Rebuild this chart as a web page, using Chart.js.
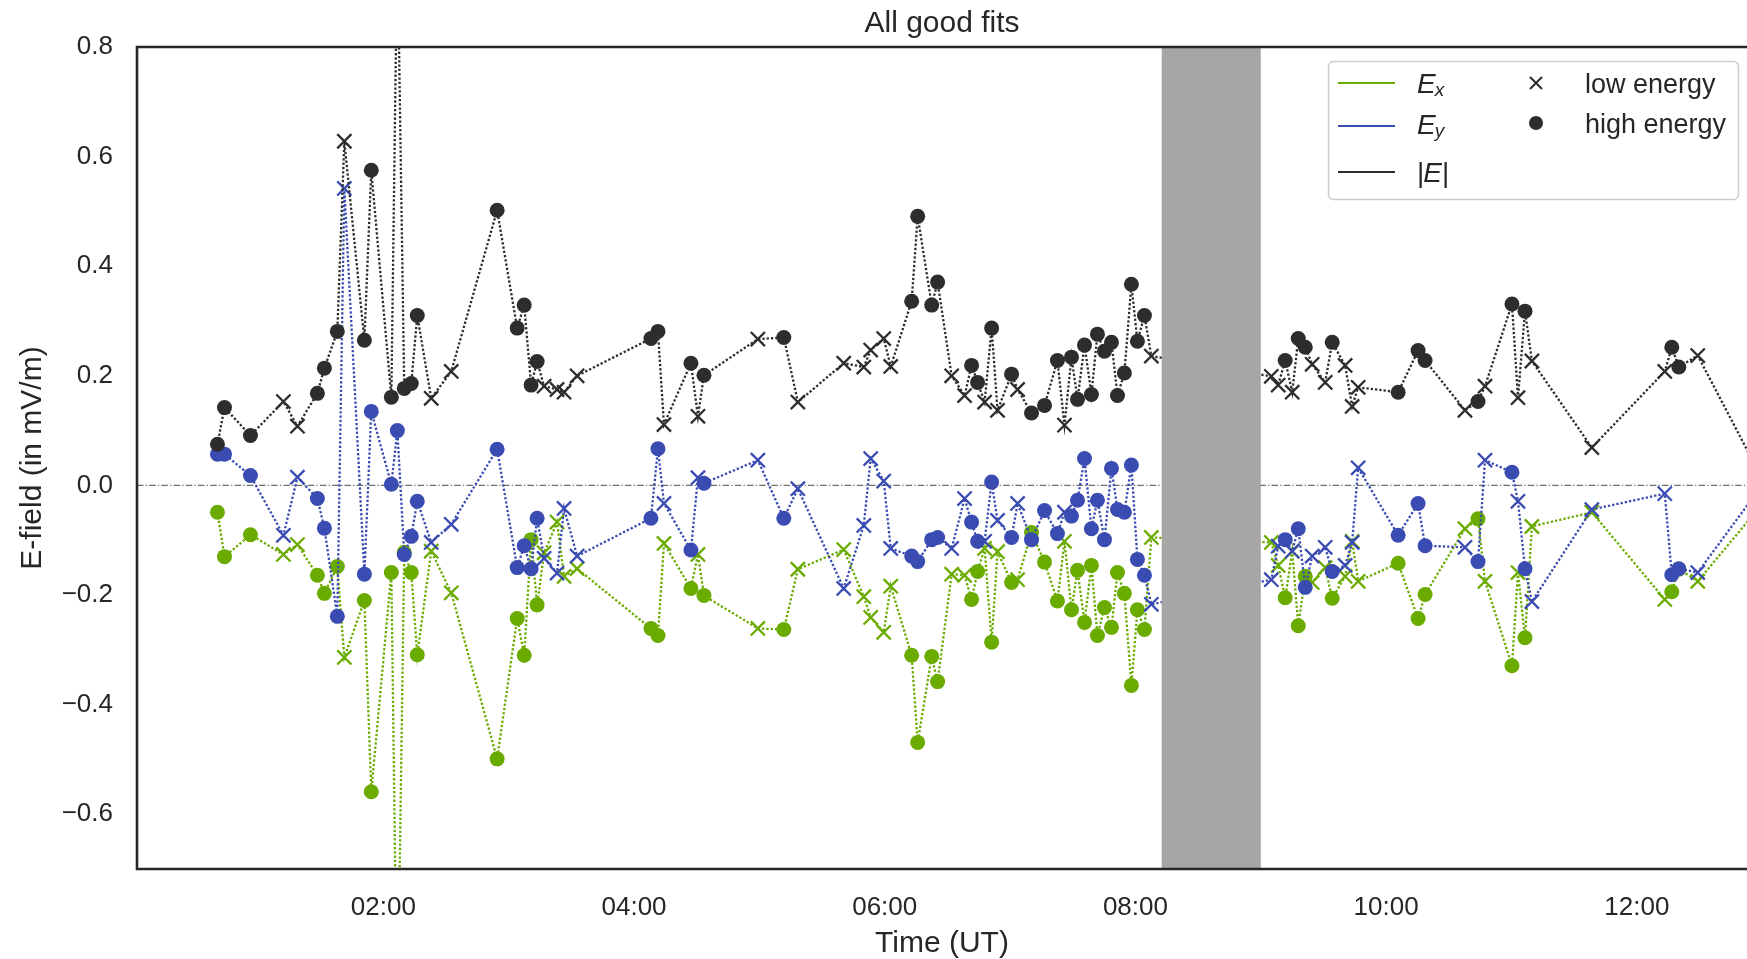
<!DOCTYPE html>
<html>
<head>
<meta charset="utf-8">
<title>All good fits</title>
<script src="https://cdn.jsdelivr.net/npm/chart.js@4.4.1/dist/chart.umd.min.js"></script>
<style>
  html, body { margin: 0; padding: 0; background: #ffffff; overflow: hidden; }
  #wrap { width: 1747px; height: 959px; position: relative; }
  canvas { display: block; }
</style>
</head>
<body>
<div id="wrap"><canvas id="chart"></canvas></div>
<script>
// time of each fit, in hours UT
const times = [
  0.677, 0.733, 0.940, 1.203, 1.315, 1.474, 1.530, 1.633, 1.689, 1.849,
  1.904, 2.064, 2.112, 2.167, 2.223, 2.271, 2.382, 2.542, 2.908, 3.068,
  3.124, 3.179, 3.227, 3.283, 3.386, 3.442, 3.546, 4.135, 4.191, 4.239,
  4.454, 4.510, 4.558, 4.988, 5.195, 5.307, 5.673, 5.833, 5.888, 5.992,
  6.048, 6.215, 6.263, 6.375, 6.422, 6.534, 6.637, 6.693, 6.741, 6.797,
  6.853, 6.900, 7.012, 7.060, 7.171, 7.275, 7.378, 7.434, 7.490, 7.538,
  7.594, 7.649, 7.697, 7.753, 7.809, 7.857, 7.912, 7.968, 8.016, 8.072,
  8.127, 9.084, 9.139, 9.195, 9.251, 9.299, 9.355, 9.410, 9.514, 9.570,
  9.673, 9.729, 9.777, 10.096, 10.255, 10.311, 10.629, 10.733, 10.789, 11.004,
  11.052, 11.108, 11.163, 11.641, 12.223, 12.279, 12.335, 12.486, 12.95
];

// which fit: low energy (x marker) or high energy (dot)
const energy = [
  'high','high','high','low','low','high','high','high','low','high',
  'high','high','high','high','high','high','low','low','high','high',
  'high','high','high','low','low','low','low','high','high','low',
  'high','low','high','low','high','low','low','low','low','low',
  'low','high','high','high','high','low','low','high','high','low',
  'high','low','high','low','high','high','high','low','high','high',
  'high','high','high','high','high','high','high','high','high','high',
  'low','low','low','high','low','high','high','low','low','high',
  'low','low','low','high','high','high','low','high','low','high',
  'low','high','low','low','low','high','high','low','low'
];

// mV/m
const ex = [
  -0.049, -0.130, -0.090, -0.126, -0.108, -0.164, -0.197, -0.148, -0.314, -0.210,
  -0.559, -0.159, -1.000, -0.122, -0.159, -0.309, -0.120, -0.196, -0.499, -0.243,
  -0.310, -0.099, -0.218, -0.123, -0.067, -0.166, -0.152, -0.261, -0.274, -0.106,
  -0.188, -0.126, -0.201, -0.261, -0.263, -0.153, -0.117, -0.203, -0.241, -0.268,
  -0.184, -0.310, -0.469, -0.312, -0.358, -0.162, -0.164, -0.208, -0.157, -0.115,
  -0.286, -0.121, -0.177, -0.172, -0.086, -0.140, -0.211, -0.102, -0.227, -0.155,
  -0.250, -0.146, -0.274, -0.223, -0.259, -0.159, -0.197, -0.365, -0.227, -0.263,
  -0.095, -0.104, -0.146, -0.205, -0.120, -0.256, -0.166, -0.177, -0.150, -0.206,
  -0.166, -0.102, -0.175, -0.142, -0.243, -0.199, -0.079, -0.061, -0.175, -0.329,
  -0.159, -0.278, -0.075, -0.049, -0.208, -0.194, -0.153, -0.175, -0.048
];

const ey = [
  0.057, 0.057, 0.018, -0.091, 0.015, -0.024, -0.078, -0.239, 0.542, -0.162,
  0.135, 0.002, 0.100, -0.126, -0.093, -0.029, -0.104, -0.071, 0.066, -0.150,
  -0.110, -0.152, -0.060, -0.133, -0.160, -0.042, -0.129, -0.060, 0.067, -0.033,
  -0.118, 0.014, 0.004, 0.046, -0.060, -0.006, -0.188, -0.073, 0.049, 0.008,
  -0.115, -0.129, -0.139, -0.099, -0.095, -0.115, -0.024, -0.067, -0.102, -0.102,
  0.006, -0.064, -0.095, -0.033, -0.099, -0.046, -0.088, -0.049, -0.056, -0.027,
  0.049, -0.079, -0.027, -0.099, 0.031, -0.044, -0.049, 0.037, -0.135, -0.164,
  -0.217, -0.172, -0.111, -0.099, -0.120, -0.079, -0.186, -0.129, -0.113, -0.157,
  -0.146, -0.104, 0.032, -0.091, -0.033, -0.110, -0.113, -0.139, 0.046, 0.024,
  -0.029, -0.152, -0.212, -0.044, -0.015, -0.163, -0.152, -0.159, -0.015
];

const eAbs = [
  0.075, 0.142, 0.091, 0.153, 0.108, 0.168, 0.214, 0.281, 0.628, 0.265,
  0.575, 0.161, 1.000, 0.177, 0.186, 0.310, 0.159, 0.208, 0.502, 0.287,
  0.329, 0.183, 0.226, 0.181, 0.175, 0.170, 0.200, 0.268, 0.281, 0.111,
  0.223, 0.126, 0.201, 0.267, 0.270, 0.152, 0.223, 0.216, 0.247, 0.268,
  0.217, 0.336, 0.491, 0.329, 0.371, 0.200, 0.164, 0.219, 0.188, 0.152,
  0.287, 0.137, 0.203, 0.175, 0.132, 0.146, 0.228, 0.110, 0.234, 0.157,
  0.256, 0.166, 0.276, 0.245, 0.261, 0.164, 0.205, 0.367, 0.263, 0.310,
  0.236, 0.199, 0.183, 0.228, 0.170, 0.268, 0.252, 0.221, 0.188, 0.261,
  0.219, 0.144, 0.179, 0.170, 0.246, 0.228, 0.137, 0.153, 0.181, 0.331,
  0.160, 0.318, 0.227, 0.069, 0.208, 0.252, 0.216, 0.237, 0.034
];

const xTicks = [2, 4, 6, 8, 10, 12];
const xTickLabels = ['02:00', '04:00', '06:00', '08:00', '10:00', '12:00'];
const yTicks = [-0.6, -0.4, -0.2, 0.0, 0.2, 0.4, 0.6, 0.8];
const xRange = [0.035, 12.879];
const yRange = [-0.7, 0.8];
const dataGap = [8.21, 9.0];   // no fits in this interval

const GREEN = '#6aab00';
const BLUE = '#3a4bb2';
const DARK = '#2d2d2d';
const TEXT = '#262626';
const FONT = '"Liberation Sans", Arial, Helvetica, sans-serif';

Chart.defaults.font.family = FONT;
Chart.defaults.color = TEXT;

const isLow = c => energy[c.dataIndex] === 'low';

function series(label, values, color, order) {
  return {
    label: label,
    order: order,
    data: times.map((t, i) => ({ x: t, y: values[i] })),
    borderColor: color,
    backgroundColor: color,
    borderWidth: 2.3,
    borderDash: [2.3, 2.0],
    borderCapStyle: 'butt',
    tension: 0,
    pointStyle: c => isLow(c) ? 'crossRot' : 'circle',
    pointRadius: c => isLow(c) ? 10 : 7.5,
    pointBorderWidth: c => isLow(c) ? 2.3 : 0,
    pointBorderColor: color,
    pointBackgroundColor: color
  };
}

function roundRect(ctx, x, y, w, h, r) {
  ctx.beginPath();
  ctx.moveTo(x + r, y);
  ctx.lineTo(x + w - r, y);
  ctx.arcTo(x + w, y, x + w, y + r, r);
  ctx.lineTo(x + w, y + h - r);
  ctx.arcTo(x + w, y + h, x + w - r, y + h, r);
  ctx.lineTo(x + r, y + h);
  ctx.arcTo(x, y + h, x, y + h - r, r);
  ctx.lineTo(x, y + r);
  ctx.arcTo(x, y, x + r, y, r);
  ctx.closePath();
}

function drawLegend(chart) {
  const ctx = chart.ctx;
  const bx = chart.width - 419, by = chart.chartArea.top + 14;
  ctx.save();
  roundRect(ctx, bx + 0.5, by + 0.5, 410, 138, 5);
  ctx.fillStyle = 'rgba(255,255,255,0.85)';
  ctx.fill();
  ctx.strokeStyle = '#cccccc';
  ctx.lineWidth = 1.5;
  ctx.stroke();

  // component lines
  const rows = [
    { color: GREEN, ly: 22, base: 32, sub: 'x' },
    { color: BLUE, ly: 65, base: 73, sub: 'y' },
    { color: DARK, ly: 111, base: 121, sub: null }
  ];
  const tx = bx + 89;
  rows.forEach(r => {
    ctx.strokeStyle = r.color;
    ctx.lineWidth = 2;
    ctx.beginPath();
    ctx.moveTo(bx + 10, by + r.ly);
    ctx.lineTo(bx + 67, by + r.ly);
    ctx.stroke();
    ctx.fillStyle = TEXT;
    ctx.textBaseline = 'alphabetic';
    ctx.textAlign = 'left';
    if (r.sub) {
      ctx.font = 'italic 28px ' + FONT;
      ctx.fillText('E', tx, by + r.base);
      const w = ctx.measureText('E').width;
      ctx.font = 'italic 19px ' + FONT;
      ctx.fillText(r.sub, tx + w - 1, by + r.base + 3);
    } else {
      ctx.font = '28px ' + FONT;
      ctx.fillText('|', tx, by + r.base);
      const w1 = ctx.measureText('|').width;
      ctx.font = 'italic 28px ' + FONT;
      ctx.fillText('E', tx + w1 - 1, by + r.base);
      const w2 = ctx.measureText('E').width;
      ctx.font = '28px ' + FONT;
      ctx.fillText('|', tx + w1 + w2 - 1, by + r.base);
    }
  });

  // marker legend
  const mx = bx + 208;
  ctx.strokeStyle = DARK;
  ctx.lineWidth = 2;
  ctx.beginPath();
  ctx.moveTo(mx - 6, by + 22 - 6); ctx.lineTo(mx + 6, by + 22 + 6);
  ctx.moveTo(mx + 6, by + 22 - 6); ctx.lineTo(mx - 6, by + 22 + 6);
  ctx.stroke();
  ctx.fillStyle = DARK;
  ctx.beginPath();
  ctx.arc(mx, by + 62, 7, 0, Math.PI * 2);
  ctx.fill();
  ctx.fillStyle = TEXT;
  ctx.font = '27px ' + FONT;
  ctx.fillText('low energy', bx + 257, by + 32);
  ctx.fillText('high energy', bx + 257, by + 72);
  ctx.restore();
}

const decor = {
  id: 'decor',
  beforeDatasetsDraw(chart) {
    const { ctx, chartArea: a, scales: { y } } = chart;
    const y0 = y.getPixelForValue(0);
    ctx.save();
    ctx.strokeStyle = '#6e6e6e';
    ctx.lineWidth = 1.3;
    ctx.setLineDash([6.5, 2.2, 1.3, 2.2]);
    ctx.beginPath();
    ctx.moveTo(a.left, y0);
    ctx.lineTo(a.right, y0);
    ctx.stroke();
    ctx.restore();
  },
  afterDatasetsDraw(chart) {
    const { ctx, chartArea: a, scales: { x } } = chart;
    const x0 = x.getPixelForValue(dataGap[0]);
    const x1 = x.getPixelForValue(dataGap[1]);
    ctx.save();
    ctx.fillStyle = '#a6a6a6';
    ctx.fillRect(x0, a.top, x1 - x0, a.bottom - a.top);
    ctx.restore();
  },
  afterDraw(chart) {
    const { ctx, chartArea: a } = chart;
    ctx.save();
    ctx.strokeStyle = TEXT;
    ctx.lineWidth = 2.6;
    ctx.beginPath();
    ctx.moveTo(a.right + 2, a.top);
    ctx.lineTo(a.left, a.top);
    ctx.lineTo(a.left, a.bottom);
    ctx.lineTo(a.right + 2, a.bottom);
    ctx.stroke();
    ctx.restore();
    drawLegend(chart);
  }
};

new Chart(document.getElementById('chart'), {
  type: 'line',
  data: {
    datasets: [
      series('Ex', ex, GREEN, 3),
      series('Ey', ey, BLUE, 2),
      series('|E|', eAbs, DARK, 1)
    ]
  },
  options: {
    responsive: true,
    maintainAspectRatio: false,
    animation: false,
    events: [],
    layout: { autoPadding: false, padding: 0 },
    plugins: {
      legend: { display: false },
      tooltip: { enabled: false },
      title: {
        display: true,
        fullSize: false,
        text: 'All good fits',
        color: TEXT,
        font: { size: 30, weight: 'normal' },
        padding: { top: 6, bottom: 5 }
      }
    },
    scales: {
      x: {
        type: 'linear',
        min: xRange[0],
        max: xRange[1],
        grid: { display: false, drawTicks: false },
        border: { display: false },
        afterBuildTicks: s => { s.ticks = xTicks.map(v => ({ value: v })); },
        ticks: {
          padding: 23,
          autoSkip: false,
          maxRotation: 0,
          color: TEXT,
          font: { size: 26 },
          callback: (v, i) => xTickLabels[i]
        },
        title: {
          display: true,
          text: 'Time (UT)',
          color: TEXT,
          font: { size: 30 },
          padding: { top: 0, bottom: -3 }
        },
        afterFit: s => {
          s.height = 90;
          s.paddingLeft = 0;
          s.paddingRight = 0;
        }
      },
      y: {
        min: yRange[0],
        max: yRange[1],
        grid: { display: false, drawTicks: false },
        border: { display: false },
        afterBuildTicks: s => { s.ticks = yTicks.map(v => ({ value: v })); },
        ticks: {
          padding: 24,
          color: TEXT,
          font: { size: 26 },
          callback: v => v.toFixed(1).replace('-', '\u2212')
        },
        title: {
          display: true,
          text: 'E-field (in mV/m)',
          color: TEXT,
          font: { size: 30 },
          padding: { top: 15, bottom: 0 }
        },
        afterFit: s => { s.width = 137; }
      }
    }
  },
  plugins: [decor]
});
</script>
</body>
</html>
